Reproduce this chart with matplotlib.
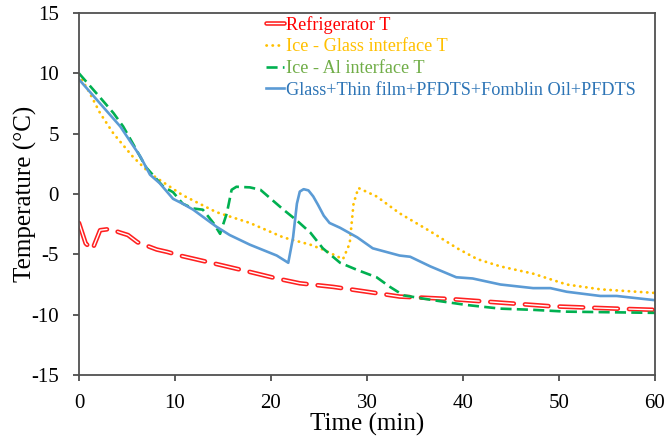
import matplotlib
matplotlib.use("Agg")
from matplotlib import pyplot as plt
import matplotlib.patheffects as pe

plt.rcParams['font.family'] = ['Liberation Serif', 'DejaVu Serif']
plt.rcParams['axes.unicode_minus'] = False

# refrigerator temperature
fridge_t = [0, 0.7, 1.4, 2.2, 3.2, 4.3, 5.1, 6.1, 8.1, 9.2, 10.5, 14.3, 17.5, 20.6,
            23.0, 26.5, 30.0, 33.4, 38.6, 42.1, 45.6, 49.1, 52.5, 56.0, 60.0]
fridge_T = [-2.4, -4.1, -4.6, -3.0, -2.9, -3.2, -3.4, -4.0, -4.6, -4.8, -5.1, -5.8, -6.4, -7.0,
            -7.4, -7.7, -8.1, -8.5, -8.7, -8.9, -9.1, -9.3, -9.4, -9.5, -9.6]

# ice - glass interface
glass_t = [0, 1.1, 2.2, 3.6, 5.6, 7.4, 10.8, 14.3, 17.8, 21.3, 24.1, 25.4, 27.5,
           28.2, 28.6, 29.1, 31.0, 33.4, 36.6, 39.4, 41.5, 43.9, 47.3, 50.8, 54.3, 60.0]
glass_T = [9.9, 8.4, 6.7, 5.0, 3.1, 1.7, -0.1, -1.5, -2.4, -3.6, -4.2, -4.6, -5.4,
           -4.1, -0.8, 0.5, -0.2, -1.6, -3.1, -4.5, -5.4, -6.0, -6.6, -7.5, -7.9, -8.2]

# ice - Al interface
al_t = [0, 2.2, 3.6, 4.6, 5.6, 7.0, 8.8, 9.8, 10.8, 11.9, 12.9, 14.0, 14.7, 15.4,
        15.9, 16.4, 17.8, 18.9, 21.3, 22.7, 24.1, 25.4, 27.2, 29.0, 31.0, 32.4, 33.8,
        36.9, 40.4, 43.9, 47.3, 50.8, 60.0]
al_T = [10.0, 8.0, 6.7, 5.6, 4.2, 2.2, 0.6, 0.15, -0.8, -1.2, -1.3, -2.4, -3.3, -1.6,
        0.35, 0.6, 0.55, 0.35, -1.3, -2.2, -3.2, -4.5, -5.7, -6.3, -6.9, -7.7, -8.4,
        -8.8, -9.2, -9.5, -9.6, -9.75, -9.85]

# coated glass sample
coat_t = [0, 2.2, 4.3, 6.4, 7.4, 8.4, 9.8, 10.8, 11.9, 14.3, 15.7, 17.8, 20.6, 21.8,
          22.3, 22.7, 23.0, 23.4, 23.9, 24.4, 24.9, 25.5, 26.1, 27.2, 29.0, 30.6, 33.4,
          34.5, 36.6, 39.3, 41.0, 43.9, 47.3, 49.1, 50.8, 54.3, 56.0, 57.7, 60.0]
coat_T = [9.5, 7.5, 5.6, 3.1, 1.6, 0.9, -0.4, -0.8, -1.3, -2.7, -3.4, -4.2, -5.1, -5.7,
          -3.6, -0.8, 0.2, 0.4, 0.3, -0.2, -0.9, -1.8, -2.4, -2.8, -3.6, -4.5, -5.1,
          -5.2, -6.0, -6.9, -7.0, -7.5, -7.8, -7.8, -8.1, -8.45, -8.45, -8.6, -8.8]

labels = ['Refrigerator T', 'Ice - Glass interface T', 'Ice - Al interface T',
          'Glass+Thin film+PFDTS+Fomblin Oil+PFDTS']
text_colors = ['#FF0000', '#FFC000', '#70AD47', '#2E75B6']

fig = plt.figure(figsize=(6.67, 4.44), dpi=100)
ax = fig.add_axes([0.1184, 0.1554, 0.8636, 0.8153])

ax.plot(fridge_t, fridge_T, color='white', lw=1.0, dashes=(17, 8),
        dash_capstyle='round', label=labels[0],
        path_effects=[pe.Stroke(linewidth=3.3, foreground='#FF2020'), pe.Normal()])
ax.plot(glass_t, glass_T, color='#FFC000', lw=2.0, dashes=(0.1, 2.1),
        dash_capstyle='round', label=labels[1])
ax.plot(al_t, al_T, color='#00B050', lw=1.9, dashes=(4.2, 2.0), label=labels[2])
ax.plot(coat_t, coat_T, color='#5B9BD5', lw=1.9, label=labels[3])

ax.set_xlim(0, 60)
ax.set_ylim(-15, 15)
ax.set_xticks(range(0, 61, 10))
ax.set_yticks(range(-15, 16, 5))
ax.tick_params(axis='both', direction='out', length=4.5, width=1.2, color='#404040',
               labelsize=15)
ax.tick_params(axis='y', pad=10)
ax.tick_params(axis='x', pad=9)
for s in ax.spines.values():
    s.set_color('#505050')
    s.set_linewidth(1.3)

ax.set_xlabel('Time (min)', fontsize=18, labelpad=0)
ax.set_ylabel('Temperature (°C)', fontsize=18, labelpad=-4)

leg = ax.legend(loc='upper left', bbox_to_anchor=(0.308, 1.018), frameon=False,
                handlelength=1.0, handletextpad=0.1, labelspacing=0.26,
                borderpad=0.0, prop={'size': 13.15}, labelcolor=text_colors)

fig.savefig('out.png', dpi=100)
